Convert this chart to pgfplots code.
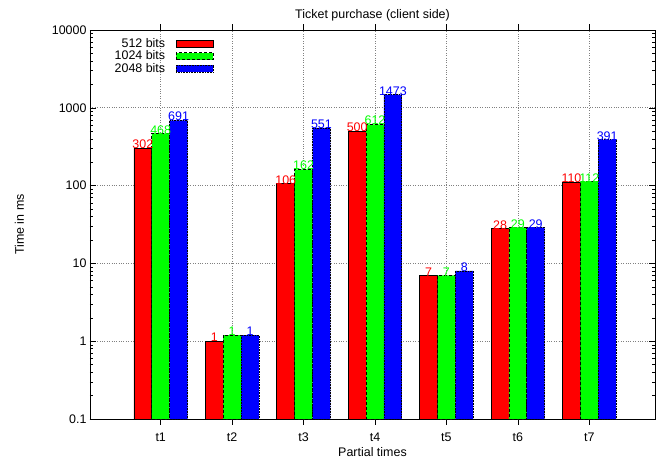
\documentclass[border=0pt]{standalone}
\usepackage{pgfplots}
\pgfplotsset{compat=1.18}
\usepackage{fontspec}
\setmainfont{Liberation Sans}
\pgfplotsset{mylegend/.style={legend image code/.code={\path (0bp,0bp); \draw[##1] (9bp,-3.5bp) rectangle (46bp,3.5bp);}}}
\begin{document}
\begin{tikzpicture}[x=1bp,y=1bp,font=\fontsize{12.5}{14}\selectfont]
\path[use as bounding box] (-90bp,-44bp) rectangle (574bp,419bp);
\begin{axis}[
  at={(0bp,0bp)}, anchor=south west,
  scale only axis,
  width=565bp, height=389bp,
  font=\fontsize{12.5}{14}\selectfont,
  /pgf/number format/assume math mode=true,
  ymode=log, log origin=infty,
  ymin=0.1, ymax=10000,
  xmin=0.01, xmax=7.92,
  ytick={0.1,1,10,100,1000,10000},
  yticklabels={0.1,1,10,100,1000,10000},
  xtick={1,2,3,4,5,6,7},
  xticklabels={t1,t2,t3,t4,t5,t6,t7},
  tick align=inside,
  major tick length=6bp, minor tick length=3bp,
  xmajorgrids, ymajorgrids,
  major grid style={dotted, gray, line width=0.6pt},
  axis line style={line width=0.8pt},
  tick style={black, line width=0.5pt},
  title={Ticket purchase (client side)},
  title style={yshift=-1bp},
  xlabel={Partial times},
  ylabel={Time in ms},
  xlabel style={yshift=1bp},
  ylabel style={yshift=21bp},
  xticklabel style={yshift=-4bp},
  ybar=0pt, bar width=0.25,
  point meta=explicit symbolic,
  nodes near coords,
  nodes near coords style={font=\fontsize{12.5}{14}\selectfont, inner sep=0.5bp, yshift=-1.5bp},
  legend plot pos=right,
  legend style={draw=none, fill=none, at={(0.038,0.987)}, anchor=north west,
    font=\fontsize{12.5}{14}\selectfont, row sep=-2bp, inner sep=1bp},
  legend cell align=right,
]
\addplot[fill=red, draw=black, line width=0.6pt, bar shift=-0.25, nodes near coords style={text=red}, mylegend]
coordinates {(1,302)[302] (2,1.0)[1] (3,106)[106] (4,500)[500] (5,7)[7] (6,28)[28] (7,110)[110]};
\addlegendentry{512 bits}
\addplot[fill=green, draw=black, densely dashed, line width=0.6pt, bar shift=0, nodes near coords style={text=green, solid}, mylegend]
coordinates {(1,468)[468] (2,1.2)[1] (3,162)[162] (4,612)[612] (5,7)[7] (6,29)[29] (7,112)[112]};
\addlegendentry{1024 bits}
\addplot[fill=blue, draw=black, densely dotted, line width=0.6pt, bar shift=0.25, nodes near coords style={text=blue, solid}, mylegend]
coordinates {(1,691)[691] (2,1.2)[1] (3,551)[551] (4,1473)[1473] (5,8)[8] (6,29)[29] (7,391)[391]};
\addlegendentry{2048 bits}
\end{axis}
\end{tikzpicture}
\end{document}
